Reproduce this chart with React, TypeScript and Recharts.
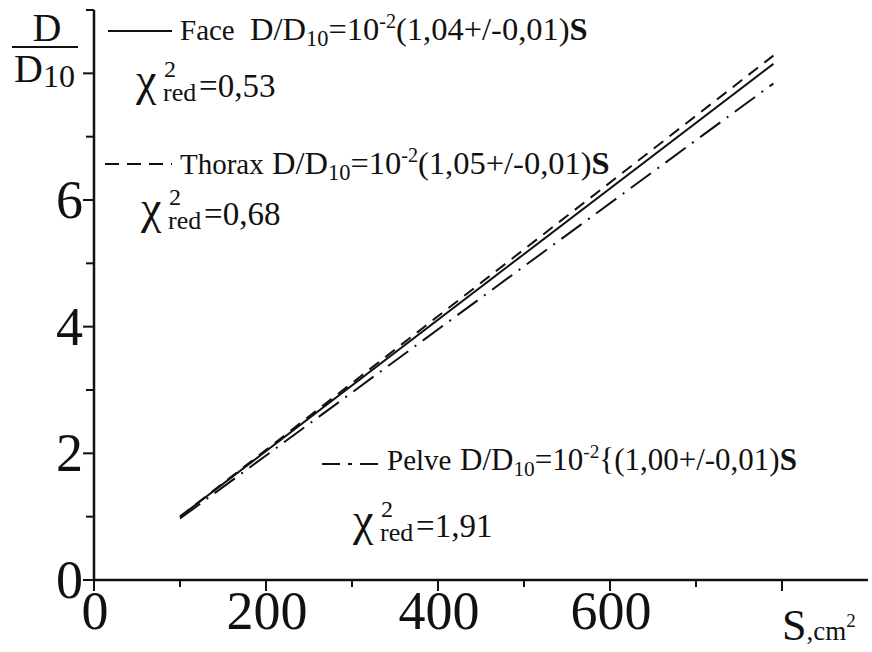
import React from 'react';
import { LineChart, Line, XAxis, YAxis } from 'recharts';

const sValues = [100, 790];
const faceValues = [1.0, 8.15];
const thoraxValues = [1.0, 8.28];
const pelveValues = [0.97, 7.84];

const xTicks = [0, 100, 200, 300, 400, 500, 600, 700, 800];
const xLabeled = [0, 200, 400, 600];
const yTicks = [0, 1, 2, 3, 4, 5, 6, 7, 8, 9];
const yLabeled = [0, 2, 4, 6];

const seriesInfo = [
  { key: 'face', name: 'Face', coef: '1,04', chi: '0,53', brace: false },
  { key: 'thorax', name: 'Thorax', coef: '1,05', chi: '0,68', brace: false },
  { key: 'pelve', name: 'Pelve', coef: '1,00', chi: '1,91', brace: true },
];

const data = sValues.map((s, i) => ({
  s,
  face: faceValues[i],
  thorax: thoraxValues[i],
  pelve: pelveValues[i],
}));

const FONT = "'Liberation Serif', 'Times New Roman', Times, serif";
const W = 872;
const H = 652;
const INK = '#111';

const XTick = (props: any) => {
  const { x, y, payload } = props;
  const v = payload.value;
  const major = v % 200 === 0;
  return (
    <g>
      <line x1={x} y1={y} x2={x} y2={y + (major ? 11 : 7)} stroke={INK} strokeWidth={2} />
      {xLabeled.includes(v) && (
        <text x={x + 1} y={y + 49} textAnchor="middle" fontFamily={FONT} style={{ fontFamily: FONT }} fontSize={54} fill={INK}>
          {v}
        </text>
      )}
    </g>
  );
};

const YTick = (props: any) => {
  const { x, y, payload } = props;
  const v = payload.value;
  const major = v % 2 === 0;
  return (
    <g>
      <line x1={x} y1={y} x2={x - (major ? 11 : 8)} y2={y} stroke={INK} strokeWidth={2} />
      {yLabeled.includes(v) && (
        <text x={x - 11} y={y + 18} textAnchor="end" fontFamily={FONT} style={{ fontFamily: FONT }} fontSize={54} fill={INK}>
          {v}
        </text>
      )}
    </g>
  );
};

const T = ({ x, y, size, children, anchor }: any) => (
  <text x={x} y={y} fontFamily={FONT} style={{ fontFamily: FONT }} fontSize={size} fill={INK} textAnchor={anchor || 'start'}>
    {children}
  </text>
);

const Formula = ({ x, y, coef, brace, size = 32 }: any) => (
  <T x={x} y={y} size={size}>
    <tspan>D/D</tspan>
    <tspan fontSize={size * 0.69} dy={6}>10</tspan>
    <tspan dy={-6}>=10</tspan>
    <tspan fontSize={size * 0.62} dy={-12}>-2</tspan>
    <tspan dy={12}>{brace ? '{(' : '('}{coef}+/-0,01)</tspan>
    <tspan fontWeight="bold">S</tspan>
  </T>
);

const Chi = ({ x, y, value }: any) => (
  <g>
    <T x={x} y={y - 2} size={46}>χ</T>
    <T x={x + 28} y={y - 20} size={24}>2</T>
    <T x={x + 27} y={y + 4} size={26}>red</T>
    <T x={x + 63} y={y} size={33}>={value}</T>
  </g>
);

const Overlay = () => (
  <svg width={W} height={H} style={{ position: 'absolute', left: 0, top: 0, pointerEvents: 'none' }}>
    {/* y axis label */}
    <T x={47} y={41} size={40} anchor="middle">D</T>
    <line x1={12} y1={47} x2={78} y2={47} stroke={INK} strokeWidth={2} />
    <T x={14} y={82} size={40}>
      <tspan>D</tspan>
      <tspan fontSize={32} dy={5}>10</tspan>
    </T>
    {/* x axis label */}
    <T x={782} y={640} size={44}>
      <tspan>S</tspan>
      <tspan fontSize={27}>,cm</tspan>
      <tspan fontSize={19} dy={-13}>2</tspan>
    </T>

    {/* Face */}
    <line x1={108} y1={31} x2={172} y2={31} stroke={INK} strokeWidth={2} />
    <T x={180} y={40} size={29}>{seriesInfo[0].name}</T>
    <Formula x={250} y={40} coef={seriesInfo[0].coef} brace={seriesInfo[0].brace} size={32.5} />
    <Chi x={136} y={97} value={seriesInfo[0].chi} />

    {/* Thorax */}
    <line x1={105} y1={164} x2={172} y2={164} stroke={INK} strokeWidth={2} strokeDasharray="14 8" />
    <T x={180} y={174} size={29}>{seriesInfo[1].name}</T>
    <Formula x={272} y={174} coef={seriesInfo[1].coef} brace={seriesInfo[1].brace} size={32.5} />
    <Chi x={141} y={225} value={seriesInfo[1].chi} />

    {/* Pelve */}
    <line x1={322} y1={464} x2={340} y2={464} stroke={INK} strokeWidth={2} />
    <line x1={348} y1={464} x2={352} y2={464} stroke={INK} strokeWidth={2} />
    <line x1={360} y1={464} x2={378} y2={464} stroke={INK} strokeWidth={2} />
    <T x={387} y={470} size={29}>{seriesInfo[2].name}</T>
    <Formula x={460} y={470} coef={seriesInfo[2].coef} brace={seriesInfo[2].brace} size={31} />
    <Chi x={353} y={537} value={seriesInfo[2].chi} />
  </svg>
);

export default function App() {
  return (
    <div style={{ position: 'absolute', left: 0, top: 0, width: W, height: H, background: '#fff' }}>
      <LineChart width={W} height={H} data={data} margin={{ top: 10, right: 4, bottom: 0, left: 0 }}>
        <XAxis
          type="number"
          dataKey="s"
          domain={[0, 900]}
          ticks={xTicks}
          interval={0}
          tickSize={0}
          tickMargin={0}
          tick={<XTick />}
          tickLine={false}
          axisLine={{ stroke: INK, strokeWidth: 2.5 }}
          height={72}
          allowDataOverflow
        />
        <YAxis
          type="number"
          domain={[0, 9]}
          ticks={yTicks}
          interval={0}
          tickSize={0}
          tickMargin={0}
          tick={<YTick />}
          tickLine={false}
          axisLine={{ stroke: INK, strokeWidth: 2.5 }}
          width={94}
          allowDataOverflow
        />
        <Line dataKey="face" type="linear" stroke={INK} strokeWidth={2} dot={false} isAnimationActive={false} />
        <Line dataKey="thorax" type="linear" stroke={INK} strokeWidth={2} strokeDasharray="12 8" dot={false} isAnimationActive={false} />
        <Line dataKey="pelve" type="linear" stroke={INK} strokeWidth={2} strokeDasharray="25 8 2 8" dot={false} isAnimationActive={false} />
      </LineChart>
      <Overlay />
    </div>
  );
}
